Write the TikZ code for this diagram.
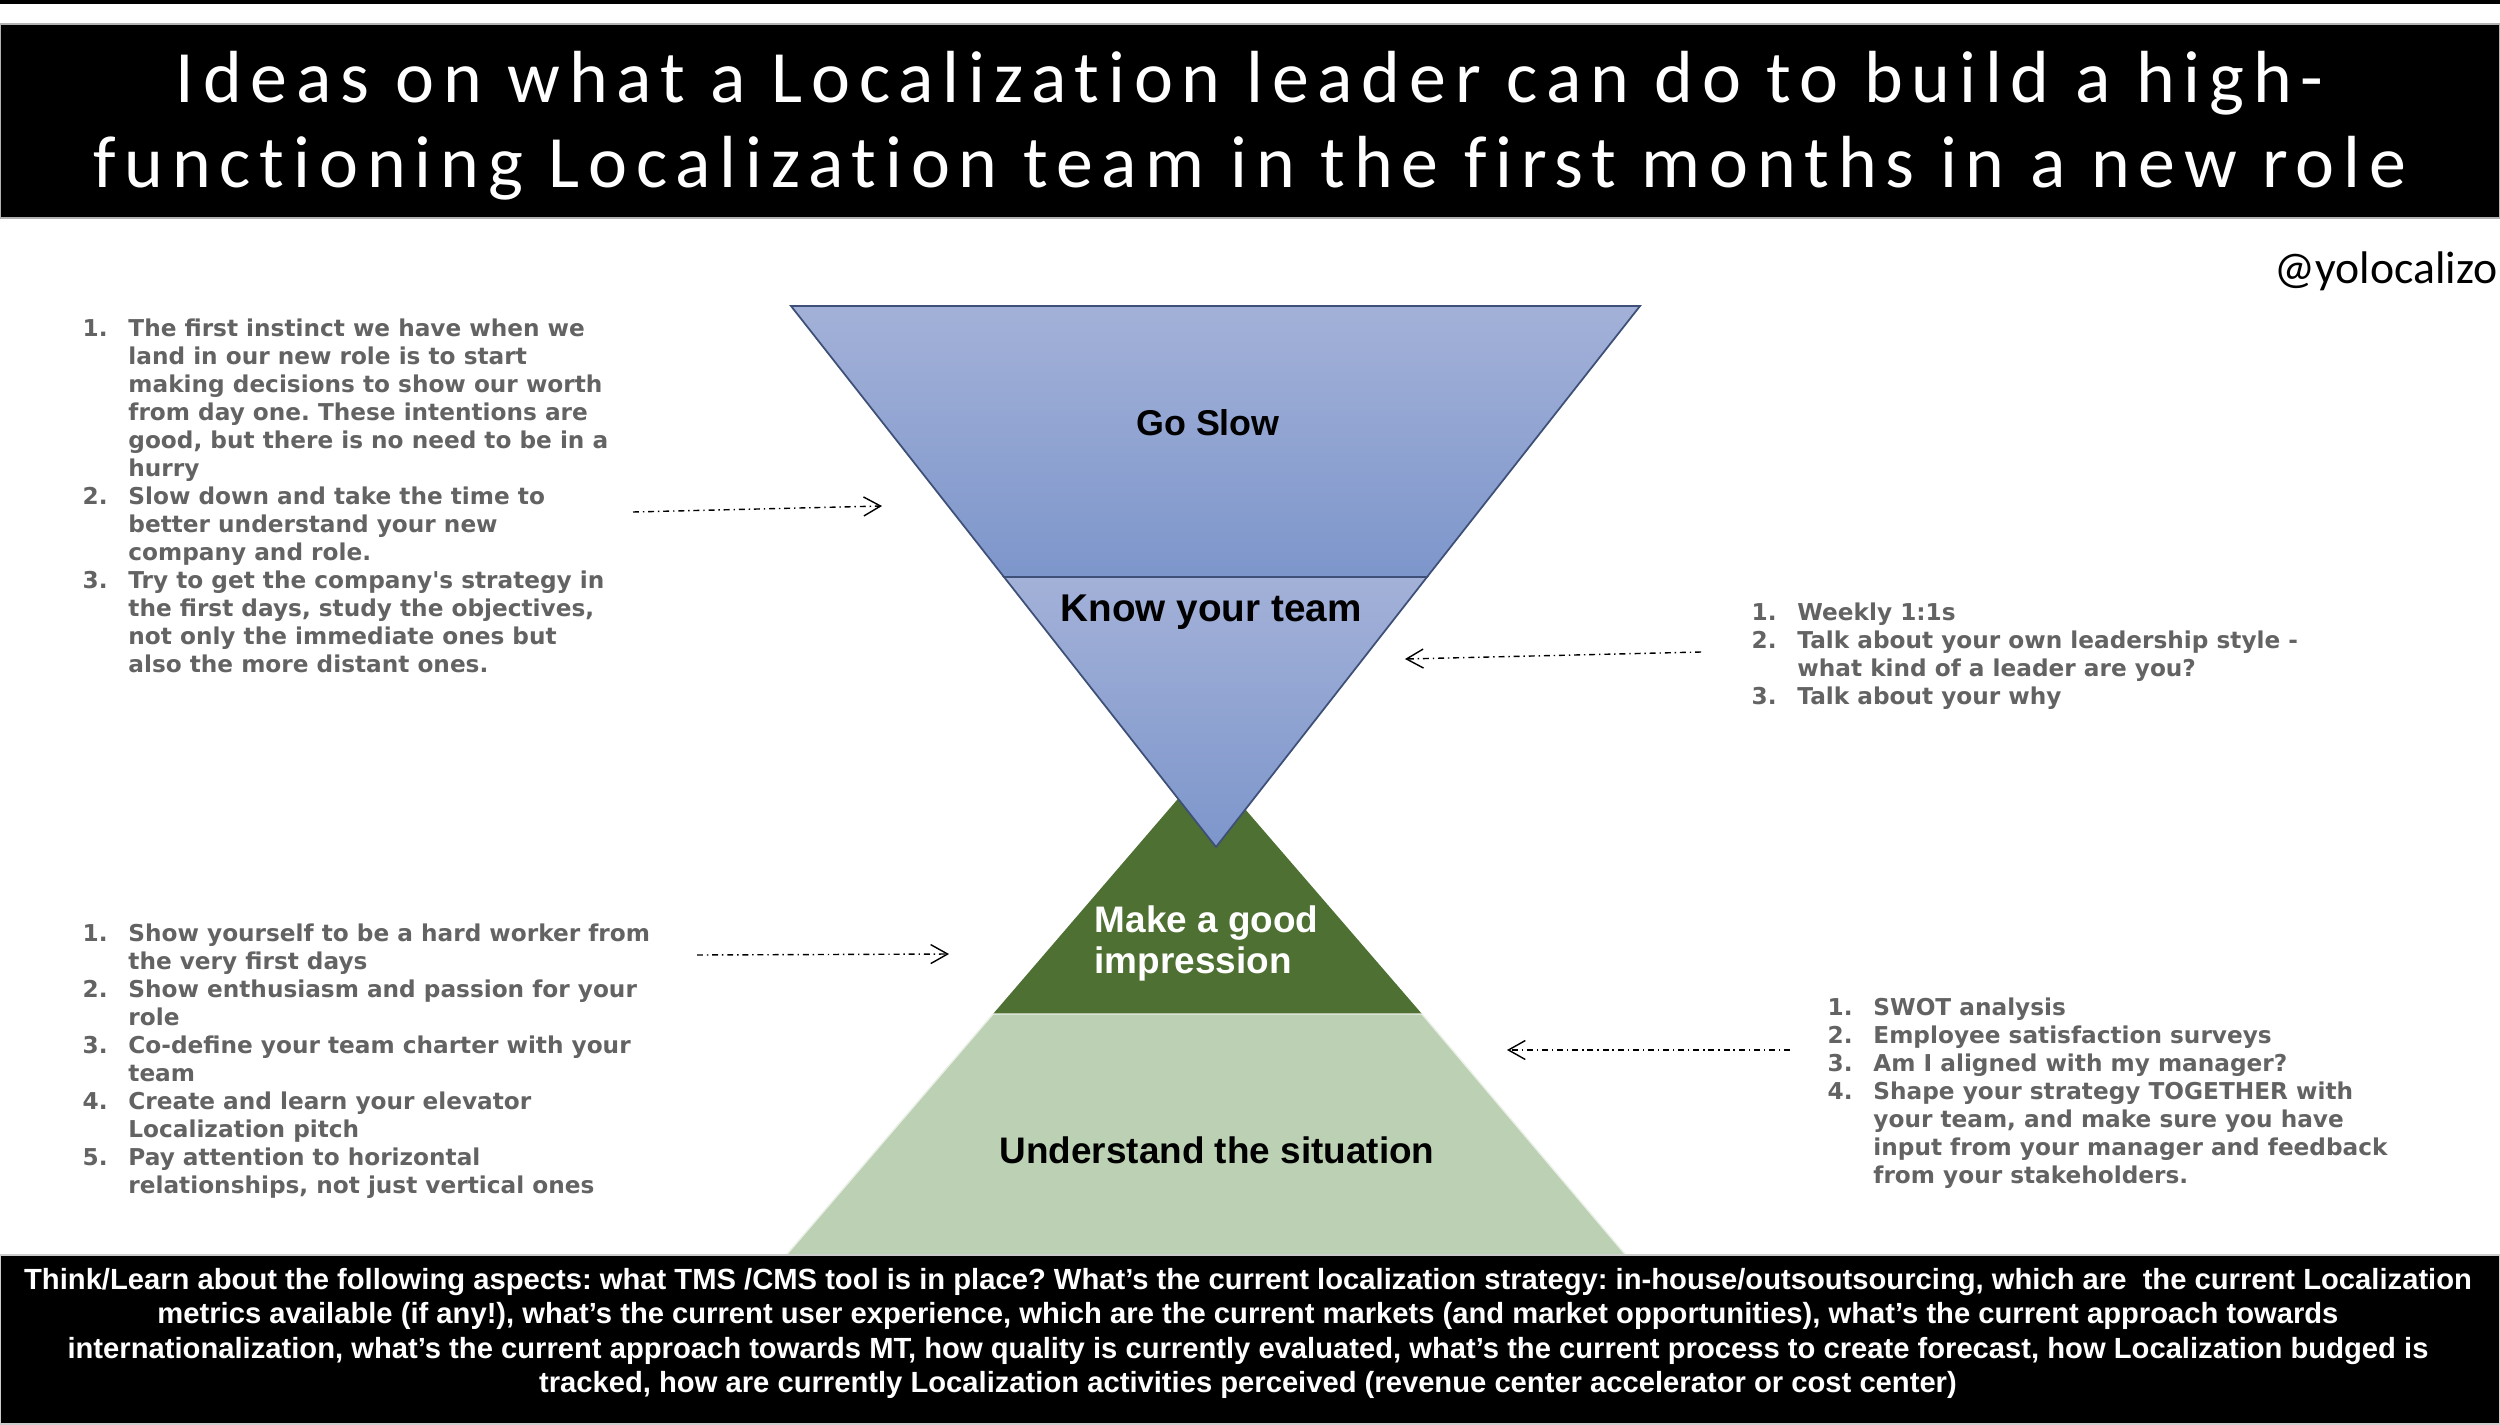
\documentclass[tikz,border=0pt]{standalone}
\usepackage{fontspec}
\setmainfont{Liberation Sans}
\newfontfamily\titlefont[LetterSpace=12,Ligatures=NoCommon]{Carlito}
\newfontfamily\handlefont{Carlito}
\newfontfamily\listfont{DejaVu Sans}
\usetikzlibrary{arrows.meta}
\definecolor{bluetop}{HTML}{A3B1D8}
\definecolor{bluebot}{HTML}{7D96CB}
\definecolor{blueline}{HTML}{3E5078}
\definecolor{darkgreen}{HTML}{4E7032}
\definecolor{palegreen}{HTML}{BCD1B4}
\definecolor{listgrey}{HTML}{636363}
\frenchspacing
\begin{document}
\begin{tikzpicture}[x=0.01cm,y=-0.01cm,
  stage/.style={anchor=base,inner sep=0pt,font=\bfseries\fontsize{10.5}{11.7}\selectfont},
  listbox/.style={anchor=base west,inner sep=0pt,text=listgrey,font=\listfont\bfseries\fontsize{6.6}{7.97}\selectfont},
  hint/.style={-{Straight Barb[length=4.8pt,width=5.4pt]},line width=0.4pt,dash pattern=on 1.7pt off 1.1pt on 0.4pt off 1.1pt}]
\useasboundingbox (0,0) rectangle (2500,1424);
\fill (0,0) rectangle (2500,4);
\fill[draw=gray!60] (0,24) rectangle (2500,218);
\node[anchor=base,inner sep=0pt,text=white,font=\titlefont\fontsize{21}{24.2}\selectfont] (title) at (1250,102)
  {\begin{tabular}[t]{@{}c@{}}Ideas on what a Localization leader can do to build a high-\\functioning Localization team in the first months in a new role\end{tabular}};
\node[anchor=base east,inner sep=0pt,font=\handlefont\fontsize{13}{15}\selectfont] (handle) at (2498,283) {@yolocalizo};
\fill[darkgreen] (1207,765) -- (1422,1014) -- (993,1014) -- cycle;
\filldraw[palegreen,draw=white!70!palegreen] (993,1014) -- (1422,1014) -- (1630,1260) -- (782,1260) -- cycle;
\shadedraw[top color=bluetop,bottom color=bluebot,draw=blueline,line width=0.5pt] (791,306) -- (1640,306) -- (1427,577) -- (1004,577) -- cycle;
\shadedraw[top color=bluetop,bottom color=bluebot,draw=blueline,line width=0.5pt] (1004,577) -- (1427,577) -- (1216,847) -- cycle;
\node[stage,font=\bfseries\fontsize{10.2}{12}\selectfont] (slow) at (1208,435) {Go Slow};
\node[stage,font=\bfseries\fontsize{11}{13}\selectfont] (team) at (1211,621) {Know your team};
\node[stage,anchor=base west,text=white] (impress) at (1094,932)
  {\begin{tabular}[t]{@{}l@{}}Make a good\\impression\end{tabular}};
\node[stage] (situation) at (1217,1163) {Understand the situation};
\fill[draw=gray!40] (0,1255) rectangle (2500,1424);
\node[anchor=base,inner sep=0pt,text=white,font=\bfseries\fontsize{8.3}{9.82}\selectfont] (aspects) at (1248,1289)
  {\begin{tabular}[t]{@{}c@{}}Think/Learn about the following aspects: what TMS /CMS tool is in place? What’s the current localization strategy: in-house/outsoutsourcing, which are~ the current Localization\\
  metrics available (if any!), what’s the current user experience, which are the current markets (and market opportunities), what’s the current approach towards\\
  internationalization, what’s the current approach towards MT, how quality is currently evaluated, what’s the current process to create forecast, how Localization budged is\\
  tracked, how are currently Localization activities perceived (revenue center accelerator or cost center)\end{tabular}};
\node[listbox] (slowlist) at (82,336) {\begin{tabular}[t]{@{}p{13pt}@{}l@{}}
1. & The first instinct we have when we\\
 & land in our new role is to start\\
 & making decisions to show our worth\\
 & from day one. These intentions are\\
 & good, but there is no need to be in a\\
 & hurry\\
2. & Slow down and take the time to\\
 & better understand your new\\
 & company and role.\\
3. & Try to get the company\textquotesingle s strategy in\\
 & the first days, study the objectives,\\
 & not only the immediate ones but\\
 & also the more distant ones.
\end{tabular}};
\node[listbox] (teamlist) at (1751,620) {\begin{tabular}[t]{@{}p{13pt}@{}l@{}}
1. & Weekly 1:1s\\
2. & Talk about your own leadership style -\\
 & what kind of a leader are you?\\
3. & Talk about your why
\end{tabular}};
\node[listbox] (impresslist) at (82,941) {\begin{tabular}[t]{@{}p{13pt}@{}l@{}}
1. & Show yourself to be a hard worker from\\
 & the very first days\\
2. & Show enthusiasm and passion for your\\
 & role\\
3. & Co-define your team charter with your\\
 & team\\
4. & Create and learn your elevator\\
 & Localization pitch\\
5. & Pay attention to horizontal\\
 & relationships, not just vertical ones
\end{tabular}};
\node[listbox] (situationlist) at (1827,1015) {\begin{tabular}[t]{@{}p{13pt}@{}l@{}}
1. & SWOT analysis\\
2. & Employee satisfaction surveys\\
3. & Am I aligned with my manager?\\
4. & Shape your strategy TOGETHER with\\
 & your team, and make sure you have\\
 & input from your manager and feedback\\
 & from your stakeholders.
\end{tabular}};
\coordinate (slowfrom) at (633,512);
\coordinate (slowto) at (882,506);
\coordinate (teamfrom) at (1701,652);
\coordinate (teamto) at (1405,659);
\coordinate (impressfrom) at (697,955);
\coordinate (impressto) at (949,954);
\coordinate (situationfrom) at (1790,1050);
\coordinate (situationto) at (1507,1050);
\foreach \a/\b in {slowfrom/slowto,teamfrom/teamto,impressfrom/impressto,situationfrom/situationto}
  \draw[hint] (\a) -- (\b);
\end{tikzpicture}
\end{document}
